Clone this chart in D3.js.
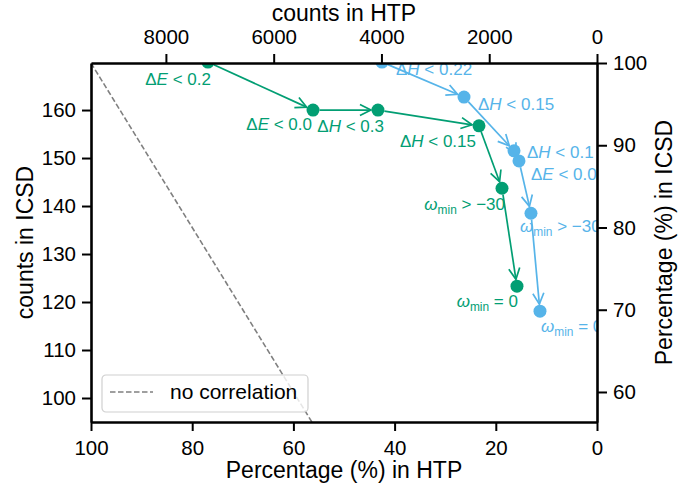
<!DOCTYPE html>
<html>
<head>
<meta charset="utf-8">
<script src="https://cdn.jsdelivr.net/npm/d3@7"></script>
<style>
  body { margin: 0; background: #fff; }
  svg { display: block; font-family: "Liberation Sans", Arial, sans-serif; }
</style>
</head>
<body>
<div id="chart"></div>
<script>
// counts in HTP (top axis) and counts in ICSD (left axis) after each filter step
const greenHTP = [7220, 5270, 4065, 2190, 1763, 1485];
const greenICSD = [170, 160, 160, 156.7, 143.7, 123.3];
const greenLabels = ["ΔE < 0.2", "ΔE < 0.0", "ΔH < 0.3", "ΔH < 0.15", "ωmin > −30", "ωmin = 0"];

const blueHTP = [3990, 2468, 1540, 1448, 1225, 1058];
const blueICSD = [170, 162.7, 151.5, 149.4, 138.5, 118.1];
const blueLabels = ["ΔH < 0.22", "ΔH < 0.15", "ΔH < 0.1", "ΔE < 0.0", "ωmin > −30", "ωmin = 0"];

const bottomTicks = [100, 80, 60, 40, 20, 0];
const topTicks = [8000, 6000, 4000, 2000, 0];
const leftTicks = [100, 110, 120, 130, 140, 150, 160];
const rightTicks = [60, 70, 80, 90, 100];

// percentage in HTP equals percentage in ICSD
const noCorrelation = [100, 0];

// label nudges in px (style only)
const greenNudge = [[3, 23], [-1, 20], [6, 22], [-3, 21], [3, 22], [1, 21]];
const blueNudge = [[14, 13], [14, 13], [13, 7], [12, 19], [-11, 19], [1, 21]];

const GREEN = "#029e73";
const BLUE = "#56b4e9";

const width = 696;
const height = 486;
const margin = { top: 63, right: 99, bottom: 64, left: 91 };
const innerWidth = width - margin.left - margin.right;
const innerHeight = height - margin.top - margin.bottom;

// Scales
const xPct = d3.scaleLinear().domain([100, 0]).range([0, innerWidth]);
const xCount = d3.scaleLinear().domain([9390, 0]).range([0, innerWidth]);
const yCount = d3.scaleLinear().domain([95, 169.8]).range([innerHeight, 0]);
const yPct = d3.scaleLinear().domain([56.35, 100]).range([innerHeight, 0]);

const svg = d3.select("#chart")
    .append("svg")
    .attr("width", width)
    .attr("height", height);

const inner = svg.append("g")
    .attr("transform", `translate(${margin.left},${margin.top})`);

svg.append("defs").append("clipPath")
    .attr("id", "plot-clip")
    .append("rect")
    .attr("width", innerWidth)
    .attr("height", innerHeight);

const plot = inner.append("g").attr("clip-path", "url(#plot-clip)");

// no correlation line
plot.append("line")
    .attr("x1", xPct(noCorrelation[0]))
    .attr("y1", yPct(noCorrelation[0]))
    .attr("x2", xPct(noCorrelation[1]))
    .attr("y2", yPct(noCorrelation[1]))
    .attr("stroke", "#808080")
    .attr("stroke-width", 1.6)
    .attr("stroke-dasharray", "5.5,2.5");

// writes labels like ΔE < 0.2 or ωmin > −30 with italic symbols
const mathLabel = (textSel, s) => {
    if (s.startsWith("Δ")) {
        textSel.append("tspan").text("Δ");
        textSel.append("tspan").attr("font-style", "italic").text(s[1]);
        textSel.append("tspan").text(s.slice(2));
    } else if (s.startsWith("ωmin")) {
        textSel.append("tspan").attr("font-style", "italic").text("ω");
        textSel.append("tspan").attr("font-size", "0.7em").attr("dy", 4).text("min");
        textSel.append("tspan").attr("dy", -4).text(s.slice(4));
    } else {
        textSel.text(s);
    }
};

const r = 6.5;

const drawSeries = (htp, icsd, labels, nudge, color, anchor) => {
    const pts = htp.map((h, i) => [xCount(h), yCount(icsd[i])]);

    // arrows between successive steps
    for (let i = 0; i < pts.length - 1; i++) {
        const [x1, y1] = pts[i];
        const [x2, y2] = pts[i + 1];
        const len = Math.hypot(x2 - x1, y2 - y1);
        const ux = (x2 - x1) / len, uy = (y2 - y1) / len;
        const sx = x1 + ux * r, sy = y1 + uy * r;
        const tx = x2 - ux * (r + 0.5), ty = y2 - uy * (r + 0.5);
        const hl = 11, hw = 5.5;
        const g = plot.append("g")
            .attr("stroke", color)
            .attr("stroke-width", 1.7)
            .attr("fill", "none");
        g.append("line")
            .attr("x1", sx).attr("y1", sy)
            .attr("x2", tx).attr("y2", ty);
        g.append("path")
            .attr("d", `M${tx - ux * hl - uy * hw},${ty - uy * hl + ux * hw}L${tx},${ty}L${tx - ux * hl + uy * hw},${ty - uy * hl - ux * hw}`);
    }

    plot.selectAll(null)
        .data(pts)
        .enter()
        .append("circle")
        .attr("cx", d => d[0])
        .attr("cy", d => d[1])
        .attr("r", r)
        .attr("fill", color);

    labels.forEach((s, i) => {
        const t = plot.append("text")
            .attr("x", pts[i][0] + nudge[i][0])
            .attr("y", pts[i][1] + nudge[i][1])
            .attr("text-anchor", anchor)
            .attr("font-size", 17)
            .attr("fill", color);
        mathLabel(t, s);
    });
};

drawSeries(greenHTP, greenICSD, greenLabels, greenNudge, GREEN, "end");
drawSeries(blueHTP, blueICSD, blueLabels, blueNudge, BLUE, "start");

// Axes
const styleAxis = (g) => {
    g.select(".domain").attr("stroke", "#000").attr("stroke-width", 2.6);
    g.selectAll(".tick line").attr("stroke", "#000").attr("stroke-width", 2);
    g.selectAll(".tick text").attr("font-size", 20.5).attr("fill", "#000")
        .attr("font-family", "Liberation Sans, Arial, sans-serif");
};

inner.append("g")
    .attr("transform", `translate(0,${innerHeight})`)
    .call(d3.axisBottom(xPct).tickValues(bottomTicks).tickSize(9).tickSizeOuter(0).tickPadding(9))
    .call(styleAxis);

inner.append("g")
    .call(d3.axisTop(xCount).tickValues(topTicks).tickFormat(d3.format("d")).tickSize(9).tickSizeOuter(0).tickPadding(10))
    .call(styleAxis);

inner.append("g")
    .call(d3.axisLeft(yCount).tickValues(leftTicks).tickSize(9).tickSizeOuter(0).tickPadding(6))
    .call(styleAxis);

inner.append("g")
    .attr("transform", `translate(${innerWidth},0)`)
    .call(d3.axisRight(yPct).tickValues(rightTicks).tickSize(10).tickSizeOuter(0).tickPadding(6))
    .call(styleAxis);

// Axis labels
inner.append("text")
    .attr("x", innerWidth / 2)
    .attr("y", innerHeight + 56)
    .attr("text-anchor", "middle")
    .attr("font-size", 23)
    .text("Percentage (%) in HTP");

inner.append("text")
    .attr("x", innerWidth / 2)
    .attr("y", -42)
    .attr("text-anchor", "middle")
    .attr("font-size", 23)
    .text("counts in HTP");

inner.append("text")
    .attr("transform", `translate(-58,${innerHeight / 2}) rotate(-90)`)
    .attr("text-anchor", "middle")
    .attr("font-size", 23)
    .text("counts in ICSD");

inner.append("text")
    .attr("transform", `translate(${innerWidth + 75},${innerHeight / 2}) rotate(-90)`)
    .attr("text-anchor", "middle")
    .attr("font-size", 23)
    .text("Percentage (%) in ICSD");

// Legend
const legend = inner.append("g").attr("transform", "translate(11,312)");
legend.append("rect")
    .attr("width", 206)
    .attr("height", 37)
    .attr("rx", 4)
    .attr("fill", "#fff")
    .attr("fill-opacity", 0.8)
    .attr("stroke", "#d0d0d0")
    .attr("stroke-width", 1.2);
legend.append("line")
    .attr("x1", 8).attr("x2", 51)
    .attr("y1", 17).attr("y2", 17)
    .attr("stroke", "#808080")
    .attr("stroke-width", 1.6)
    .attr("stroke-dasharray", "5.5,2.5");
legend.append("text")
    .attr("x", 68)
    .attr("y", 24)
    .attr("font-size", 21)
    .text("no correlation");
</script>
</body>
</html>
